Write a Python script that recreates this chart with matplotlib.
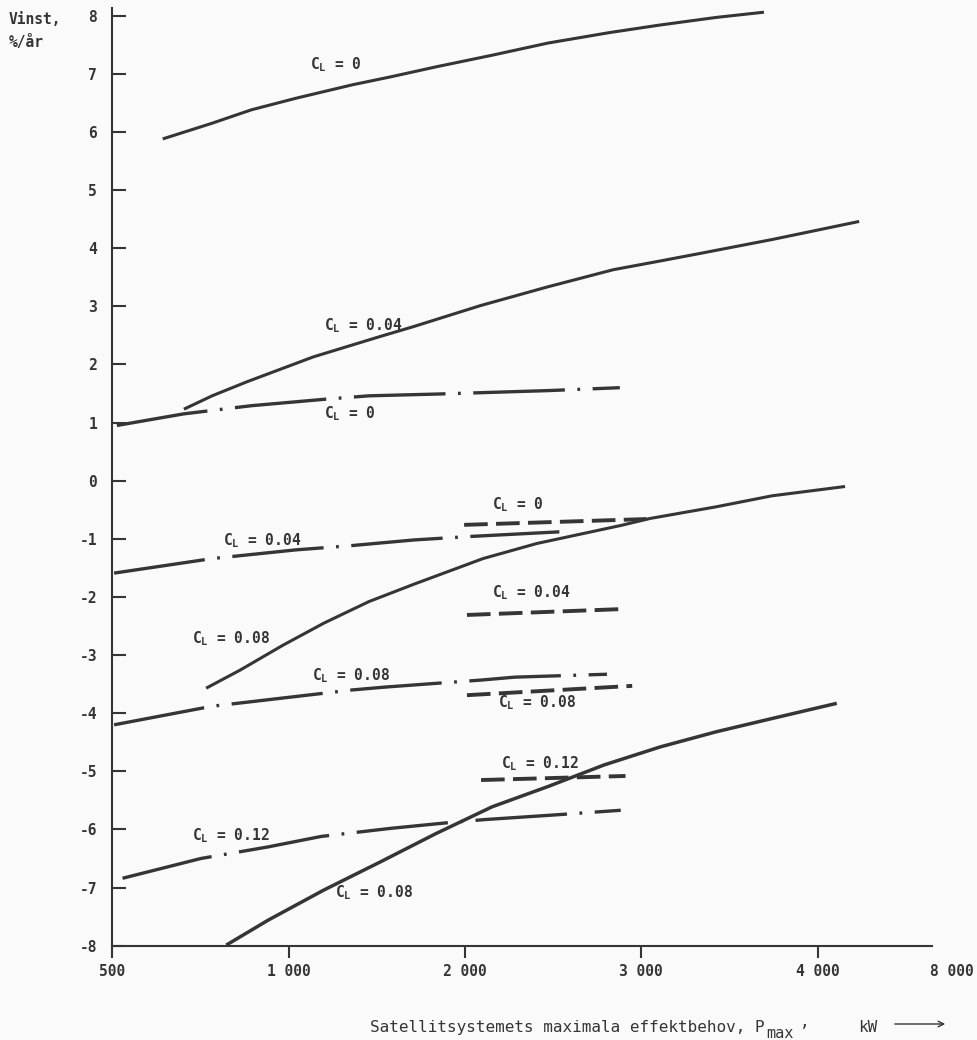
import numpy as np
import matplotlib
matplotlib.use("Agg")
import matplotlib.pyplot as plt

plt.rcParams['font.family'] = ['DejaVu Sans Mono', 'DejaVu Sans']
plt.rcParams['axes.unicode_minus'] = False
plt.rcParams['lines.scale_dashes'] = False
plt.rcParams['mathtext.default'] = 'regular'

ink = '#353535'
paper = '#fafafa'

# Axis ticks (the original spaces the kW ticks evenly)
tick_kw = [500, 1000, 2000, 3000, 4000]
tick_labels = ['500', '1 000', '2 000', '3 000', '4 000']
y_ticks = list(range(8, -9, -1))

# Solid curves
cl0_solid_kw = [643, 783, 894, 1042, 1360, 1582, 1836, 2154, 2472, 2821, 3107, 3424, 3695]
cl0_solid_val = [5.88, 6.15, 6.38, 6.58, 6.81, 6.95, 7.12, 7.32, 7.53, 7.71, 7.84, 7.97, 8.06]

cl004_solid_kw = [703, 783, 881, 1140, 1518, 1707, 2085, 2463, 2841, 3107, 3333, 3743, 3997, 4235]
cl004_solid_val = [1.23, 1.46, 1.70, 2.13, 2.48, 2.65, 3.01, 3.33, 3.63, 3.78, 3.91, 4.15, 4.31, 4.46]

cl008_solid_kw = [766, 862, 984, 1200, 1455, 1711, 1960, 2102, 2408, 2669, 2884, 3049, 3423, 3741, 4155]
cl008_solid_val = [-3.57, -3.26, -2.83, -2.45, -2.08, -1.78, -1.50, -1.34, -1.08, -0.91, -0.77, -0.65, -0.45, -0.26, -0.10]

cl008_low_kw = [823, 942, 1201, 1519, 1836, 2154, 2472, 2789, 3107, 3424, 3743, 4108]
cl008_low_val = [-7.99, -7.56, -7.04, -6.56, -6.07, -5.61, -5.26, -4.89, -4.58, -4.32, -4.09, -3.83]

# Dash-dot curves
cl0_dd_kw = [513, 703, 894, 1201, 1455, 1836, 2154, 2472, 2878]
cl0_dd_val = [0.95, 1.15, 1.29, 1.40, 1.46, 1.49, 1.52, 1.55, 1.60]

cl004_dd_kw = [505, 783, 1042, 1344, 1709, 2027, 2535]
cl004_dd_val = [-1.59, -1.34, -1.19, -1.12, -1.02, -0.96, -0.88]

cl008_dd_kw = [505, 783, 897, 1360, 1550, 2091, 2281, 2805]
cl008_dd_val = [-4.20, -3.88, -3.80, -3.60, -3.55, -3.43, -3.38, -3.33]

cl012_dd_kw = [529, 751, 942, 1185, 1582, 1916, 2113, 2510, 2883]
cl012_dd_val = [-6.84, -6.50, -6.30, -6.12, -5.98, -5.88, -5.83, -5.75, -5.67]

# Dashed curves
cl0_dash_kw = [1995, 3029]
cl0_dash_val = [-0.76, -0.66]
cl004_dash_kw = [2011, 2878]
cl004_dash_val = [-2.31, -2.21]
cl008_dash_kw = [2011, 2948]
cl008_dash_val = [-3.69, -3.53]
cl012_dash_kw = [2091, 2910]
cl012_dash_val = [-5.15, -5.08]

# Curve labels: C_L value, kW, Vinst (left/baseline of the text)
label_text = ['0', '0.04', '0', '0', '0.04', '0.04', '0.08', '0.08', '0.08', '0.12', '0.12', '0.08']
label_kw = [1121, 1200, 1200, 2153, 814, 2153, 726, 1132, 2188, 2202, 726, 1263]
label_val = [7.07, 2.59, 1.08, -0.50, -1.12, -2.00, -2.79, -3.43, -3.89, -4.94, -6.18, -7.16]

# evenly spaced kW axis as a function scale
scale_kw = [0, 500, 1000, 2000, 3000, 4000, 100000]
scale_pos = [-1, 0, 1, 2, 3, 4, 100]


def fwd(x):
    return np.interp(x, scale_kw, scale_pos)


def inv(p):
    return np.interp(p, scale_pos, scale_kw)


W, H = 977, 1040
fig = plt.figure(figsize=(W / 100, H / 100), dpi=100, facecolor=paper)
ax = fig.add_axes([112.3 / W, 1 - 945.7 / H, (932 - 112.3) / W, (945.7 - 8.3) / H])
ax.set_facecolor(paper)
ax.set_xscale('function', functions=(fwd, inv))

solid = dict(color=ink, lw=2.2, solid_capstyle='butt')
dashdot = dict(color=ink, lw=2.4, dashes=(66, 9, 2, 9), dash_capstyle='butt')
dashed = dict(color=ink, lw=2.8, dashes=(17, 6), dash_capstyle='butt')

ax.plot(cl0_solid_kw, cl0_solid_val, **solid)
ax.plot(cl004_solid_kw, cl004_solid_val, **solid)
ax.plot(cl008_solid_kw, cl008_solid_val, **solid)
ax.plot(cl008_low_kw, cl008_low_val, color=ink, lw=2.5, solid_capstyle='butt')

ax.plot(cl0_dd_kw, cl0_dd_val, **dashdot)
ax.plot(cl004_dd_kw, cl004_dd_val, **dashdot)
ax.plot(cl008_dd_kw, cl008_dd_val, **dashdot)
ax.plot(cl012_dd_kw, cl012_dd_val, **dashdot)

ax.plot(cl0_dash_kw, cl0_dash_val, **dashed)
ax.plot(cl004_dash_kw, cl004_dash_val, **dashed)
ax.plot(cl008_dash_kw, cl008_dash_val, **dashed)
ax.plot(cl012_dash_kw, cl012_dash_val, **dashed)

for t, xk, yv in zip(label_text, label_kw, label_val):
    ax.text(xk, yv, r'$C_L$ = ' + t, ha='left', va='baseline',
            fontsize=10.5, fontweight='bold', color=ink)

ax.set_xlim(500, inv(4.648))
ax.set_ylim(-8, 8.127)

for s in ['top', 'right']:
    ax.spines[s].set_visible(False)
for s in ['left', 'bottom']:
    ax.spines[s].set_linewidth(1.5)
    ax.spines[s].set_color(ink)

ax.set_xticks(tick_kw)
ax.set_xticklabels(tick_labels)
ax.set_yticks(y_ticks)
ax.set_yticklabels([str(v) for v in y_ticks])
ax.xaxis.set_minor_locator(matplotlib.ticker.NullLocator())
ax.tick_params(axis='y', direction='in', length=10, width=1.5, pad=11,
               colors=ink, labelsize=10.5)
ax.tick_params(axis='x', direction='out', length=8.5, width=1.5, pad=5,
               colors=ink, labelsize=10.5)
for lab in ax.get_xticklabels() + ax.get_yticklabels():
    lab.set_fontweight('bold')

# last x label sits beyond the axis end
fig.text(952 / W, 1 - 972 / H, '8 000', ha='center', va='center',
         fontsize=10.5, fontweight='bold', color=ink)

# y-axis title
fig.text(9 / W, 1 - 19 / H, 'Vinst,', ha='left', va='center',
         fontsize=10.5, fontweight='bold', color=ink)
fig.text(9 / W, 1 - 43 / H, '%/år', ha='left', va='center',
         fontsize=10.5, fontweight='bold', color=ink)

# x-axis title, typed in pieces like the original
fig.text(370 / W, 1 - 1031.7 / H, 'Satellitsystemets maximala effektbehov, P',
         ha='left', va='baseline', fontsize=11.5, color=ink)
fig.text(766 / W, 1 - 1038.5 / H, 'max', ha='left', va='baseline',
         fontsize=11, color=ink)
fig.text(800 / W, 1 - 1027 / H, ',', ha='left', va='baseline',
         fontsize=11.5, color=ink)
fig.text(858 / W, 1 - 1031.7 / H, 'kW', ha='left', va='baseline',
         fontsize=11.5, color=ink)
fig.patches.append(matplotlib.patches.FancyArrowPatch(
    (892 / W, 1 - 1024 / H), (948 / W, 1 - 1024 / H),
    transform=fig.transFigure, arrowstyle='->', mutation_scale=10,
    lw=1.0, color=ink))

fig.savefig('out.png', dpi=100, facecolor=paper)
